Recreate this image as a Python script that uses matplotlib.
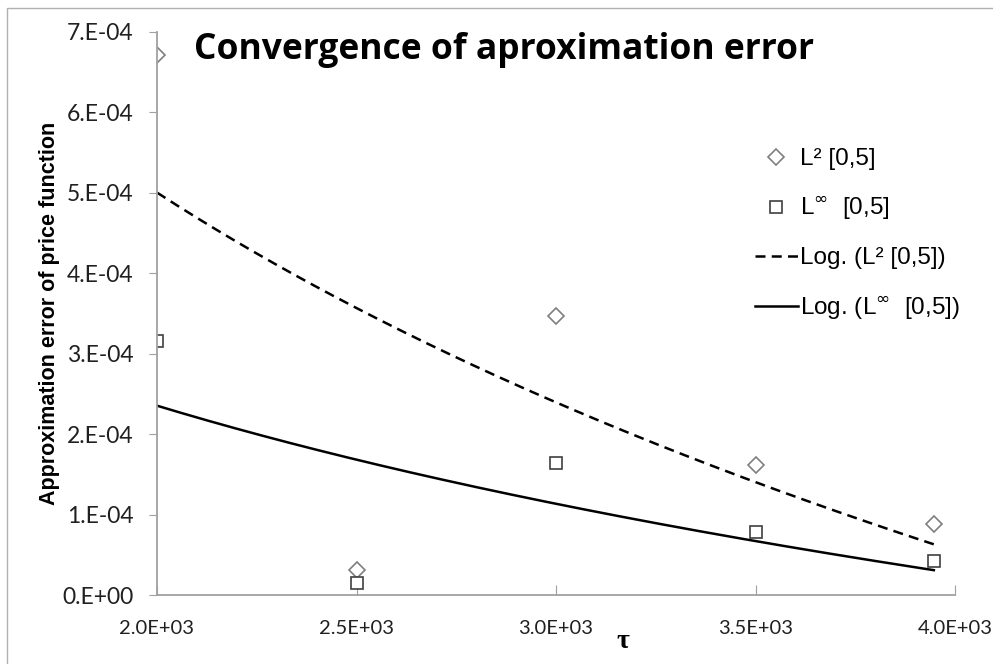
import numpy as np
import matplotlib
matplotlib.use("Agg")
import matplotlib.pyplot as plt
from matplotlib.patches import Rectangle

# ---- data ----
tau = [2000, 2500, 3000, 3500, 3947]
err_L2 = [6.72e-4, 3.1e-5, 3.47e-4, 1.62e-4, 8.8e-5]
err_Linf = [3.16e-4, 1.5e-5, 1.64e-4, 7.8e-5, 4.2e-5]
x_ticks = [2000, 2500, 3000, 3500, 4000]
x_tick_labels = ["2.0E+03", "2.5E+03", "3.0E+03", "3.5E+03", "4.0E+03"]
y_ticks = [0, 1e-4, 2e-4, 3e-4, 4e-4, 5e-4, 6e-4, 7e-4]
y_tick_labels = ["0.E+00", "1.E-04", "2.E-04", "3.E-04", "4.E-04", "5.E-04", "6.E-04", "7.E-04"]
labels = ["L² [0,5]", "L$^{\\infty}$  [0,5]", "Log. (L² [0,5])", "Log. (L$^{\\infty}$  [0,5])"]
title = "Convergence of aproximation error"
ylabel = "Approximation error of price function"
xlabel = "τ"

plt.rcParams["mathtext.fontset"] = "dejavusans"

fig = plt.figure(figsize=(9.93, 6.64), dpi=100)
fig.patches.append(Rectangle((7/993, -0.1), 1.2, 1 - 8/664 + 0.1, transform=fig.transFigure,
                             fill=False, edgecolor="#b0b0b0", linewidth=1.0))
ax = fig.add_axes([157/993, 1 - 595/664, (955 - 157)/993, (595 - 32)/664])

x = np.array(tau, dtype=float)
# logarithmic trend lines (least squares on ln x)
c2 = np.polyfit(np.log(x), err_L2, 1)
ci = np.polyfit(np.log(x), err_Linf, 1)
xx = np.linspace(x.min(), x.max(), 200)

h1, = ax.plot(tau, err_L2, linestyle="none", marker="D", markersize=8.5,
              markerfacecolor="white", markeredgecolor="#7f7f7f", markeredgewidth=1.2)
h2, = ax.plot(tau, err_Linf, linestyle="none", marker="s", markersize=8.5,
              markerfacecolor="white", markeredgecolor="#404040", markeredgewidth=1.2)
h3, = ax.plot(xx, np.polyval(c2, np.log(xx)), color="black", linestyle=(0, (4, 2.5)), linewidth=1.8)
h4, = ax.plot(xx, np.polyval(ci, np.log(xx)), color="black", linestyle="-", linewidth=1.8)

ax.set_xlim(2000, 4000)
ax.set_ylim(0, 7e-4)
ax.set_xticks(x_ticks)
ax.set_xticklabels(x_tick_labels, fontfamily="Lato", fontsize=14.5, color="#202020")
ax.set_yticks(y_ticks)
ax.set_yticklabels(y_tick_labels, fontfamily="Lato", fontsize=16.5, color="#202020")
ax.tick_params(axis="x", direction="in", length=7, color="#a0a0a0", pad=18)
ax.tick_params(axis="y", direction="out", length=6, color="#a0a0a0", pad=11)
for s in ["top", "right"]:
    ax.spines[s].set_visible(False)
for s in ["left", "bottom"]:
    ax.spines[s].set_color("#a0a0a0")
    ax.spines[s].set_linewidth(1.3)

fig.text(504/993, 1 - 50/664, title, ha="center", va="center",
         fontfamily="Open Sans", fontweight="bold", fontsize=25.5)
fig.text(50/993, 1 - 313/664, ylabel, ha="center", va="center", rotation=90,
         fontfamily="Liberation Sans", fontweight="bold", fontsize=15.5)
fig.text(623/993, 1 - 641/664, xlabel, ha="center", va="center",
         fontfamily="Liberation Serif", fontweight="bold", fontsize=20)

leg = ax.legend([h1, h2, h3, h4], labels, loc="upper left",
                bbox_to_anchor=(755/993, 1 - 148/664), bbox_transform=fig.transFigure,
                frameon=False, prop={"family": "Liberation Sans", "size": 17.5},
                handlelength=1.75, handletextpad=0.1, labelspacing=1.03,
                borderpad=0, borderaxespad=0)

fig.savefig("out.png", dpi=100)
